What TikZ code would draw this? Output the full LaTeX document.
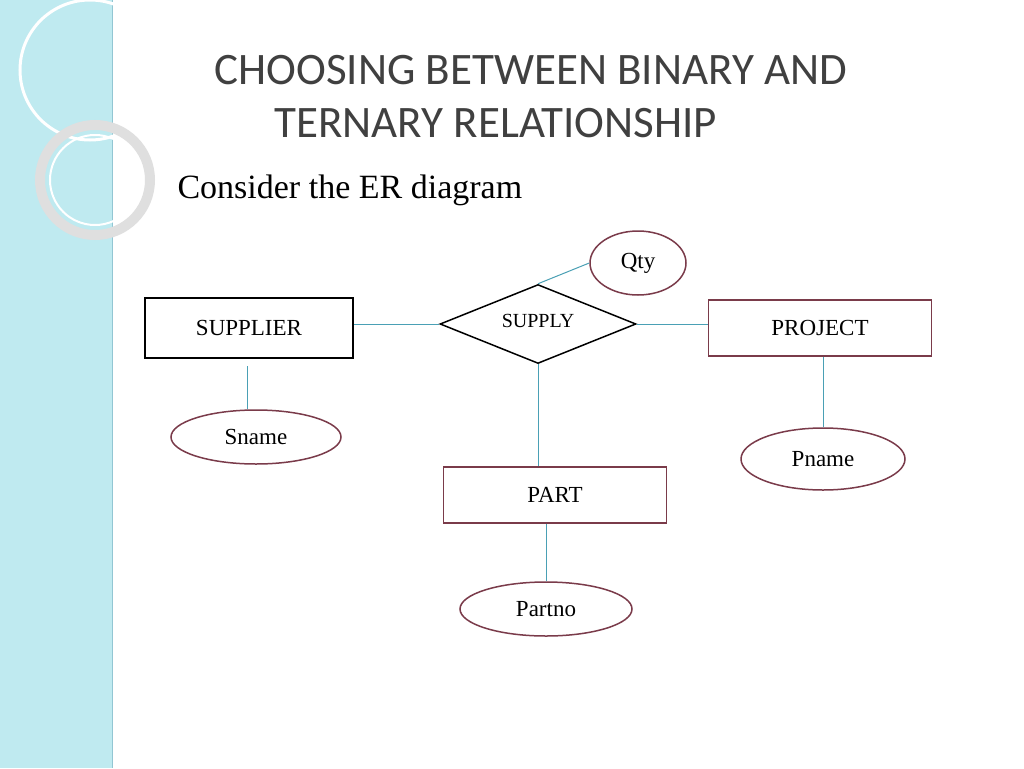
\documentclass[tikz,border=0pt]{standalone}
\usepackage{fontspec}
\setmainfont{Liberation Serif}
\newfontfamily\titlefont{Carlito}
\usetikzlibrary{shapes.geometric}
\definecolor{maroon}{HTML}{7A3B4A}
\definecolor{link}{HTML}{4AA0B5}
\definecolor{band}{HTML}{BFEAF0}
\tikzset{
  entity/.style={draw=maroon, line width=1.5pt, minimum width=223pt, minimum height=56pt, font=\fontsize{23}{27}\selectfont},
  attr/.style={ellipse, draw=maroon, line width=1.5pt, inner sep=0pt, font=\fontsize{23}{27}\selectfont},
  conn/.style={draw=link, line width=1pt}
}
\begin{document}
\begin{tikzpicture}[x=1pt,y=-1pt]
\useasboundingbox (0,0) rectangle (1024,768);
\fill[white] (0,0) rectangle (1024,768);
% left band
\fill[band] (0,0) rectangle (112,768);
\draw[link!60, line width=1pt] (112,0) -- (112,768);
\draw[white, line width=3pt] (90,70) circle (70);
\draw[gray!25, line width=10pt] (95,180) circle (55);
\draw[white, line width=2pt] (95,180) circle (45);
% title
\node[font=\titlefont\fontsize{45}{50}\selectfont, text=black!75, anchor=west] (t1) at (211,70) {CHOOSING BETWEEN BINARY AND};
\node[font=\titlefont\fontsize{45}{50}\selectfont, text=black!75, anchor=west] (t2) at (271,123) {TERNARY RELATIONSHIP};
\node[font=\fontsize{34}{38}\selectfont, anchor=west] (sub) at (174,190) {Consider the ER diagram};
% diagram
\node[entity, draw=black, minimum width=208pt, minimum height=60pt] (supplier) at (249,328) {SUPPLIER};
\node[diamond, draw=black, line width=1.5pt, aspect=2.5, minimum width=196pt, minimum height=79pt, inner sep=0pt, font=\fontsize{20}{24}\selectfont] (supply) at (538,324) {\raisebox{6pt}{SUPPLY}};
\node[entity] (project) at (820,328) {PROJECT};
\node[entity] (part) at (555,495) {PART};
\node[attr, minimum width=96pt, minimum height=64pt] (qty) at (638,263) {Qty};
\node[attr, minimum width=170pt, minimum height=54pt] (sname) at (256,437) {Sname};
\node[attr, minimum width=164pt, minimum height=62pt] (pname) at (823,459) {Pname};
\node[attr, minimum width=172pt, minimum height=54pt] (partno) at (546,609) {Partno};
\coordinate (sgap) at (247,366);
\draw[conn] (supplier.east |- supply.west) -- (supply.west);
\draw[conn] (supply.east) -- (project.west |- supply.east);
\draw[conn] (supply.south) -- (part.north -| supply.south);
\draw[conn] (supply.north) -- (qty.west);
\draw[conn] (sgap) -- (sgap |- sname.north);
\draw[conn] (project.south -| pname.north) -- (pname.north);
\draw[conn] (part.south -| partno.north) -- (partno.north);
\end{tikzpicture}
\end{document}
